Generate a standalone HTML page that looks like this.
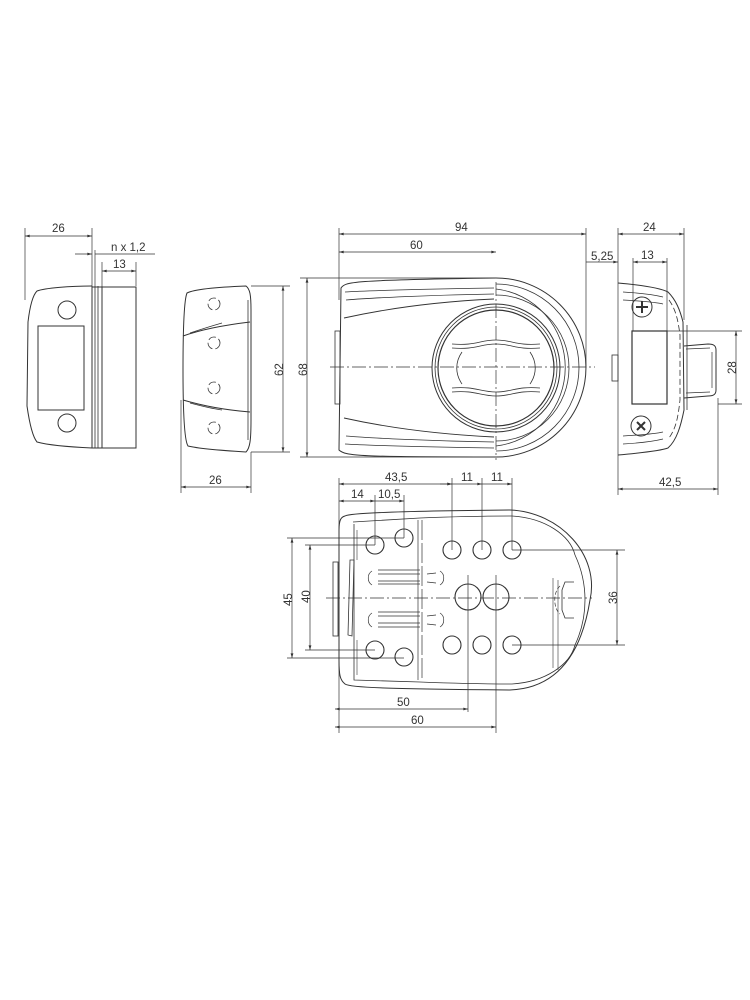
<!DOCTYPE html>
<html><head><meta charset="utf-8"><style>
html,body{margin:0;padding:0;background:#fff;}
svg{display:block;}
text{font-family:"Liberation Sans",sans-serif;font-size:11.5px;fill:#333;}
</style></head><body>
<svg width="750" height="1000" viewBox="0 0 750 1000" xmlns="http://www.w3.org/2000/svg">
<defs>
<marker id="a" viewBox="0 0 10 6" refX="10" refY="3" markerWidth="8" markerHeight="4" orient="auto-start-reverse"><path d="M0,0L10,3L0,6z" fill="#333"/></marker>
</defs>
<g fill="none" stroke="#333" stroke-width="1">
<!-- ===== VIEW 1 ===== -->
<line x1="25" y1="228" x2="25" y2="300" stroke-width="0.7"/>
<line x1="92" y1="228" x2="92" y2="286" stroke-width="0.7"/>
<line x1="95" y1="250" x2="95" y2="286" stroke-width="0.7"/>
<line x1="102" y1="262" x2="102" y2="286" stroke-width="0.7"/>
<line x1="136" y1="262" x2="136" y2="286" stroke-width="0.7"/>
<line x1="25" y1="236" x2="92" y2="236" marker-start="url(#a)" marker-end="url(#a)" stroke-width="0.7"/>
<line x1="75" y1="254" x2="92" y2="254" marker-end="url(#a)" stroke-width="0.7"/>
<line x1="95" y1="254" x2="155" y2="254" stroke-width="0.7"/>
<line x1="102" y1="271" x2="136" y2="271" marker-start="url(#a)" marker-end="url(#a)" stroke-width="0.7"/>
<path d="M92,286 C70,286 45,288 37,291 C33,295 30,305 28,322 L27,406 C29,420 32,436 37,442 C48,445 70,447 92,448"/>
<line x1="92" y1="286" x2="92" y2="448"/>
<line x1="95" y1="286" x2="95" y2="448" stroke-width="0.8"/>
<line x1="98" y1="286" x2="98" y2="448" stroke-width="0.8"/>
<line x1="102" y1="286" x2="102" y2="448" stroke-width="0.8"/>
<rect x="102" y="287" width="34" height="161"/>
<line x1="92" y1="287" x2="136" y2="287"/>
<line x1="92" y1="448" x2="136" y2="448"/>
<rect x="38" y="326" width="46" height="84"/>
<circle cx="67" cy="310" r="9"/>
<circle cx="67" cy="423" r="9"/>
<!-- ===== VIEW 2 ===== -->
<path d="M246,286 C220,287 195,289 187,293 C184,300 183,330 183,370 C183,410 184,440 188,446 C200,449 230,451 246,452 C250,448 251,440 251,420 L251,310 C251,295 250,289 246,286 Z"/>
<line x1="248" y1="300" x2="248" y2="440" stroke-width="0.8"/>
<path d="M183,336 C200,330 225,325 250,322"/>
<path d="M190,333 C205,328 215,325 222,323" stroke-width="0.7"/>
<path d="M183,400 C200,405 225,410 250,412"/>
<path d="M190,403 C205,407 215,409 222,410" stroke-width="0.7"/>
<g stroke-width="0.8" stroke-dasharray="8,3">
<circle cx="214" cy="304" r="6"/><circle cx="214" cy="343" r="6"/>
<circle cx="214" cy="388" r="6"/><circle cx="214" cy="428" r="6"/>
</g>
<line x1="251" y1="286" x2="290" y2="286" stroke-width="0.7"/>
<line x1="251" y1="452" x2="290" y2="452" stroke-width="0.7"/>
<line x1="283" y1="286" x2="283" y2="452" marker-start="url(#a)" marker-end="url(#a)" stroke-width="0.7"/>
<line x1="181" y1="400" x2="181" y2="493" stroke-width="0.7"/>
<line x1="251" y1="452" x2="251" y2="493" stroke-width="0.7"/>
<line x1="181" y1="487" x2="251" y2="487" marker-start="url(#a)" marker-end="url(#a)" stroke-width="0.7"/>
<!-- ===== VIEW 3 ===== -->
<line x1="339" y1="228" x2="339" y2="300" stroke-width="0.7"/>
<line x1="586" y1="228" x2="586" y2="368" stroke-width="0.7"/>
<line x1="339" y1="234" x2="586" y2="234" marker-start="url(#a)" marker-end="url(#a)" stroke-width="0.7"/>
<line x1="339" y1="252" x2="496" y2="252" marker-start="url(#a)" marker-end="url(#a)" stroke-width="0.7"/>
<line x1="300" y1="278" x2="496" y2="278" stroke-width="0.7"/>
<line x1="300" y1="457" x2="496" y2="457" stroke-width="0.7"/>
<line x1="307" y1="278" x2="307" y2="457" marker-start="url(#a)" marker-end="url(#a)" stroke-width="0.7"/>
<path d="M496,278 C350,280 345,282 341,288 L339,450 C345,456 360,457 496,457"/>
<path d="M496,278 A90,89.5 0 0 1 496,457"/>
<path d="M496,284 A83,83.5 0 0 1 496,451" stroke-width="0.8"/>
<path d="M496,289 A78,79 0 0 1 496,446" stroke-width="0.8"/>
<path d="M496,295 A73,73 0 0 1 496,441" stroke-width="0.8"/>
<path d="M345,292 C360,291 420,289 494,288" stroke-width="0.8"/>
<path d="M346,300 C370,298 430,295 494,294" stroke-width="0.8"/>
<path d="M344,318 C380,310 430,302 494,299" stroke-width="0.9"/>
<path d="M345,444 C360,445 420,447 494,448" stroke-width="0.8"/>
<path d="M346,436 C370,438 430,441 494,442" stroke-width="0.8"/>
<path d="M344,418 C380,426 430,434 494,437" stroke-width="0.9"/>
<rect x="335" y="331" width="5" height="73" stroke-width="0.8"/>
<circle cx="496" cy="368" r="64"/>
<circle cx="496" cy="368" r="61" stroke-width="0.8"/>
<circle cx="496" cy="368" r="58" stroke-width="1.2"/>
<path d="M452,344 C475,346 480,340 496,340 C512,340 517,346 540,344" stroke-width="0.8"/>
<path d="M452,348 C475,350 480,344 496,344 C512,344 517,350 540,348" stroke-width="0.8"/>
<path d="M452,388 C475,386 480,392 496,392 C512,392 517,386 540,388" stroke-width="0.8"/>
<path d="M452,392 C475,390 480,396 496,396 C512,396 517,390 540,392" stroke-width="0.8"/>
<path d="M462,352 C455,362 455,374 462,384" stroke-width="0.8"/>
<path d="M530,352 C537,362 537,374 530,384" stroke-width="0.8"/>
<g stroke-width="0.7" stroke-dasharray="14,3,2,3">
<line x1="330" y1="367" x2="595" y2="367"/>
<line x1="496" y1="282" x2="496" y2="460"/>
</g>
<!-- ===== VIEW 4 ===== -->
<line x1="618" y1="228" x2="618" y2="495" stroke-width="0.7"/>
<line x1="684" y1="228" x2="684" y2="320" stroke-width="0.7"/>
<line x1="718" y1="398" x2="718" y2="495" stroke-width="0.7"/>
<line x1="618" y1="234" x2="684" y2="234" marker-start="url(#a)" marker-end="url(#a)" stroke-width="0.7"/>
<line x1="586" y1="262" x2="610" y2="262" stroke-width="0.7"/>
<line x1="610" y1="262" x2="618" y2="262" marker-end="url(#a)" stroke-width="0.7"/>
<line x1="633" y1="262" x2="667" y2="262" marker-start="url(#a)" marker-end="url(#a)" stroke-width="0.7"/>
<line x1="633" y1="258" x2="633" y2="331" stroke-width="0.7"/>
<line x1="667" y1="258" x2="667" y2="331" stroke-width="0.7"/>
<line x1="618" y1="489" x2="718" y2="489" marker-start="url(#a)" marker-end="url(#a)" stroke-width="0.7"/>
<line x1="667" y1="331" x2="742" y2="331" stroke-width="0.7"/>
<line x1="718" y1="404" x2="742" y2="404" stroke-width="0.7"/>
<line x1="736" y1="331" x2="736" y2="404" marker-start="url(#a)" marker-end="url(#a)" stroke-width="0.7"/>
<path d="M618,283 C640,285 660,288 668,292 C676,300 680,310 683,322 L684,410 C681,425 677,440 668,448 C660,451 640,453 618,455"/>
<path d="M623,292 C640,293 655,295 663,297" stroke-width="0.7"/>
<path d="M623,300 C640,301 655,302 663,304" stroke-width="0.7"/>
<path d="M623,444 C640,443 655,441 663,439" stroke-width="0.7"/>
<path d="M623,436 C640,435 655,434 663,432" stroke-width="0.7"/>
<path d="M669,300 C676,310 678,320 680,335 L680,400 C678,418 676,428 669,438" stroke-width="0.8" stroke-dasharray="6,3"/>
<line x1="687" y1="325" x2="687" y2="410" stroke-width="0.8"/>
<rect x="632" y="331" width="35" height="73" stroke-width="1.2"/>
<rect x="612" y="355" width="6" height="26" stroke-width="0.8"/>
<circle cx="642" cy="307" r="10"/>
<path d="M642,301v12M636,307h12" stroke-width="2"/>
<circle cx="641" cy="426" r="10"/>
<path d="M637,422l8,8M645,422l-8,8" stroke-width="2"/>
<path d="M684,346 L708,344 C714,344 716,346 716,350 L716,390 C716,394 714,396 708,396 L684,398"/>
<line x1="686" y1="349" x2="710" y2="348" stroke-width="0.7"/>
<line x1="686" y1="393" x2="710" y2="392" stroke-width="0.7"/>
<line x1="712" y1="352" x2="712" y2="388" stroke-width="0.7"/>
<!-- ===== VIEW 5 ===== -->
<g stroke-width="0.7">
<line x1="339" y1="478" x2="339" y2="733"/>
<line x1="339" y1="484" x2="452" y2="484" marker-start="url(#a)" marker-end="url(#a)"/>
<line x1="452" y1="478" x2="452" y2="550"/>
<line x1="482" y1="478" x2="482" y2="550"/>
<line x1="512" y1="478" x2="512" y2="550"/>
<line x1="440" y1="484" x2="452" y2="484" marker-end="url(#a)"/>
<line x1="452" y1="484" x2="482" y2="484" marker-end="url(#a)"/>
<line x1="482" y1="484" x2="512" y2="484" marker-end="url(#a)"/>
<line x1="339" y1="501" x2="375" y2="501" marker-start="url(#a)" marker-end="url(#a)"/>
<line x1="375" y1="501" x2="404" y2="501" marker-end="url(#a)"/>
<line x1="375" y1="495" x2="375" y2="545"/>
<line x1="404" y1="495" x2="404" y2="538"/>
<line x1="287" y1="538" x2="404" y2="538"/>
<line x1="287" y1="658" x2="404" y2="658"/>
<line x1="292" y1="538" x2="292" y2="658" marker-start="url(#a)" marker-end="url(#a)"/>
<line x1="305" y1="545" x2="375" y2="545"/>
<line x1="305" y1="650" x2="375" y2="650"/>
<line x1="310" y1="545" x2="310" y2="650" marker-start="url(#a)" marker-end="url(#a)"/>
<line x1="512" y1="550" x2="625" y2="550"/>
<line x1="512" y1="645" x2="625" y2="645"/>
<line x1="617" y1="550" x2="617" y2="645" marker-start="url(#a)" marker-end="url(#a)"/>
<line x1="468" y1="575" x2="468" y2="712"/>
<line x1="496" y1="575" x2="496" y2="733"/>
<line x1="335" y1="709" x2="468" y2="709" marker-start="url(#a)" marker-end="url(#a)"/>
<line x1="335" y1="727" x2="496" y2="727" marker-start="url(#a)" marker-end="url(#a)"/>
</g>
<path d="M345,516 C350,513 400,511 510,510 C560,512 600,555 590,600 C582,650 560,688 510,690 C400,689 350,688 345,684 C340,680 339,675 339,660 L339,530 C339,520 341,517 345,516 Z"/>
<path d="M353,522 L420,518 C470,516 500,516 512,516 C545,518 570,535 575,555" stroke-width="0.8"/>
<path d="M354,524 L354,680 L420,682 C470,684 500,684 512,684 C545,682 570,665 575,645" stroke-width="0.8"/>
<path d="M575,555 C582,570 585,585 585,600 C585,615 582,630 575,645" stroke-width="0.8" fill="none"/>
<path d="M574,582 L565,582 L562,590 L562,610 L565,618 L574,618" stroke-width="0.8"/>
<path d="M560,586 C553,592 553,608 560,614" stroke-width="0.7" stroke-dasharray="4,2"/>
<line x1="558" y1="580" x2="558" y2="670" stroke-width="0.6"/>
<line x1="553" y1="578" x2="553" y2="668" stroke-width="0.6"/>
<line x1="418" y1="520" x2="418" y2="680" stroke-width="0.7"/>
<line x1="422" y1="520" x2="422" y2="680" stroke-width="0.7" stroke-dasharray="20,3"/>
<path d="M350,560 L348,635 L352,636 L354,560 Z" stroke-width="0.8"/>
<rect x="333" y="562" width="5" height="74" stroke-width="0.8"/>
<line x1="357" y1="530" x2="357" y2="560" stroke-width="0.6"/>
<line x1="357" y1="640" x2="357" y2="675" stroke-width="0.6"/>
<g stroke-width="0.7">
<line x1="378" y1="570" x2="420" y2="570"/><line x1="378" y1="574" x2="420" y2="574"/>
<line x1="378" y1="581" x2="420" y2="581"/><line x1="378" y1="584" x2="420" y2="584"/>
<line x1="378" y1="612" x2="420" y2="612"/><line x1="378" y1="616" x2="420" y2="616"/>
<line x1="378" y1="623" x2="420" y2="623"/><line x1="378" y1="627" x2="420" y2="627"/>
<line x1="427" y1="574" x2="436" y2="573"/><line x1="427" y1="582" x2="436" y2="583"/>
<line x1="427" y1="616" x2="436" y2="615"/><line x1="427" y1="624" x2="436" y2="625"/>
<path d="M372,571 C367,574 367,582 372,585"/><path d="M440,571 C445,574 445,582 440,585"/>
<path d="M372,613 C367,616 367,624 372,627"/><path d="M440,613 C445,616 445,624 440,627"/>
</g>
<g stroke-width="1.1">
<circle cx="375" cy="545" r="9"/><circle cx="404" cy="538" r="9"/>
<circle cx="375" cy="650" r="9"/><circle cx="404" cy="657" r="9"/>
<circle cx="452" cy="550" r="9"/><circle cx="482" cy="550" r="9"/><circle cx="512" cy="550" r="9"/>
<circle cx="452" cy="645" r="9"/><circle cx="482" cy="645" r="9"/><circle cx="512" cy="645" r="9"/>
<circle cx="468" cy="597" r="13"/><circle cx="496" cy="597" r="13"/>
</g>
<line x1="326" y1="598" x2="592" y2="598" stroke-width="0.7" stroke-dasharray="14,3,2,3"/>
</g>
<g>
<text x="52" y="232">26</text>
<text x="111" y="251">n x  1,2</text>
<text x="113" y="268">13</text>
<text x="209" y="484">26</text>
<text x="283" y="376" transform="rotate(-90 283 376)" x-offset="0">62</text>
<text x="455" y="231">94</text>
<text x="410" y="249">60</text>
<text x="307" y="376" transform="rotate(-90 307 376)">68</text>
<text x="591" y="260">5,25</text>
<text x="641" y="259">13</text>
<text x="643" y="231">24</text>
<text x="736" y="374" transform="rotate(-90 736 374)">28</text>
<text x="659" y="486">42,5</text>
<text x="385" y="481">43,5</text>
<text x="461" y="481">11</text>
<text x="491" y="481">11</text>
<text x="351" y="498">14</text>
<text x="378" y="498">10,5</text>
<text x="292" y="606" transform="rotate(-90 292 606)">45</text>
<text x="310" y="603" transform="rotate(-90 310 603)">40</text>
<text x="617" y="604" transform="rotate(-90 617 604)">36</text>
<text x="397" y="706">50</text>
<text x="411" y="724">60</text>
</g>
</svg>
</body></html>
